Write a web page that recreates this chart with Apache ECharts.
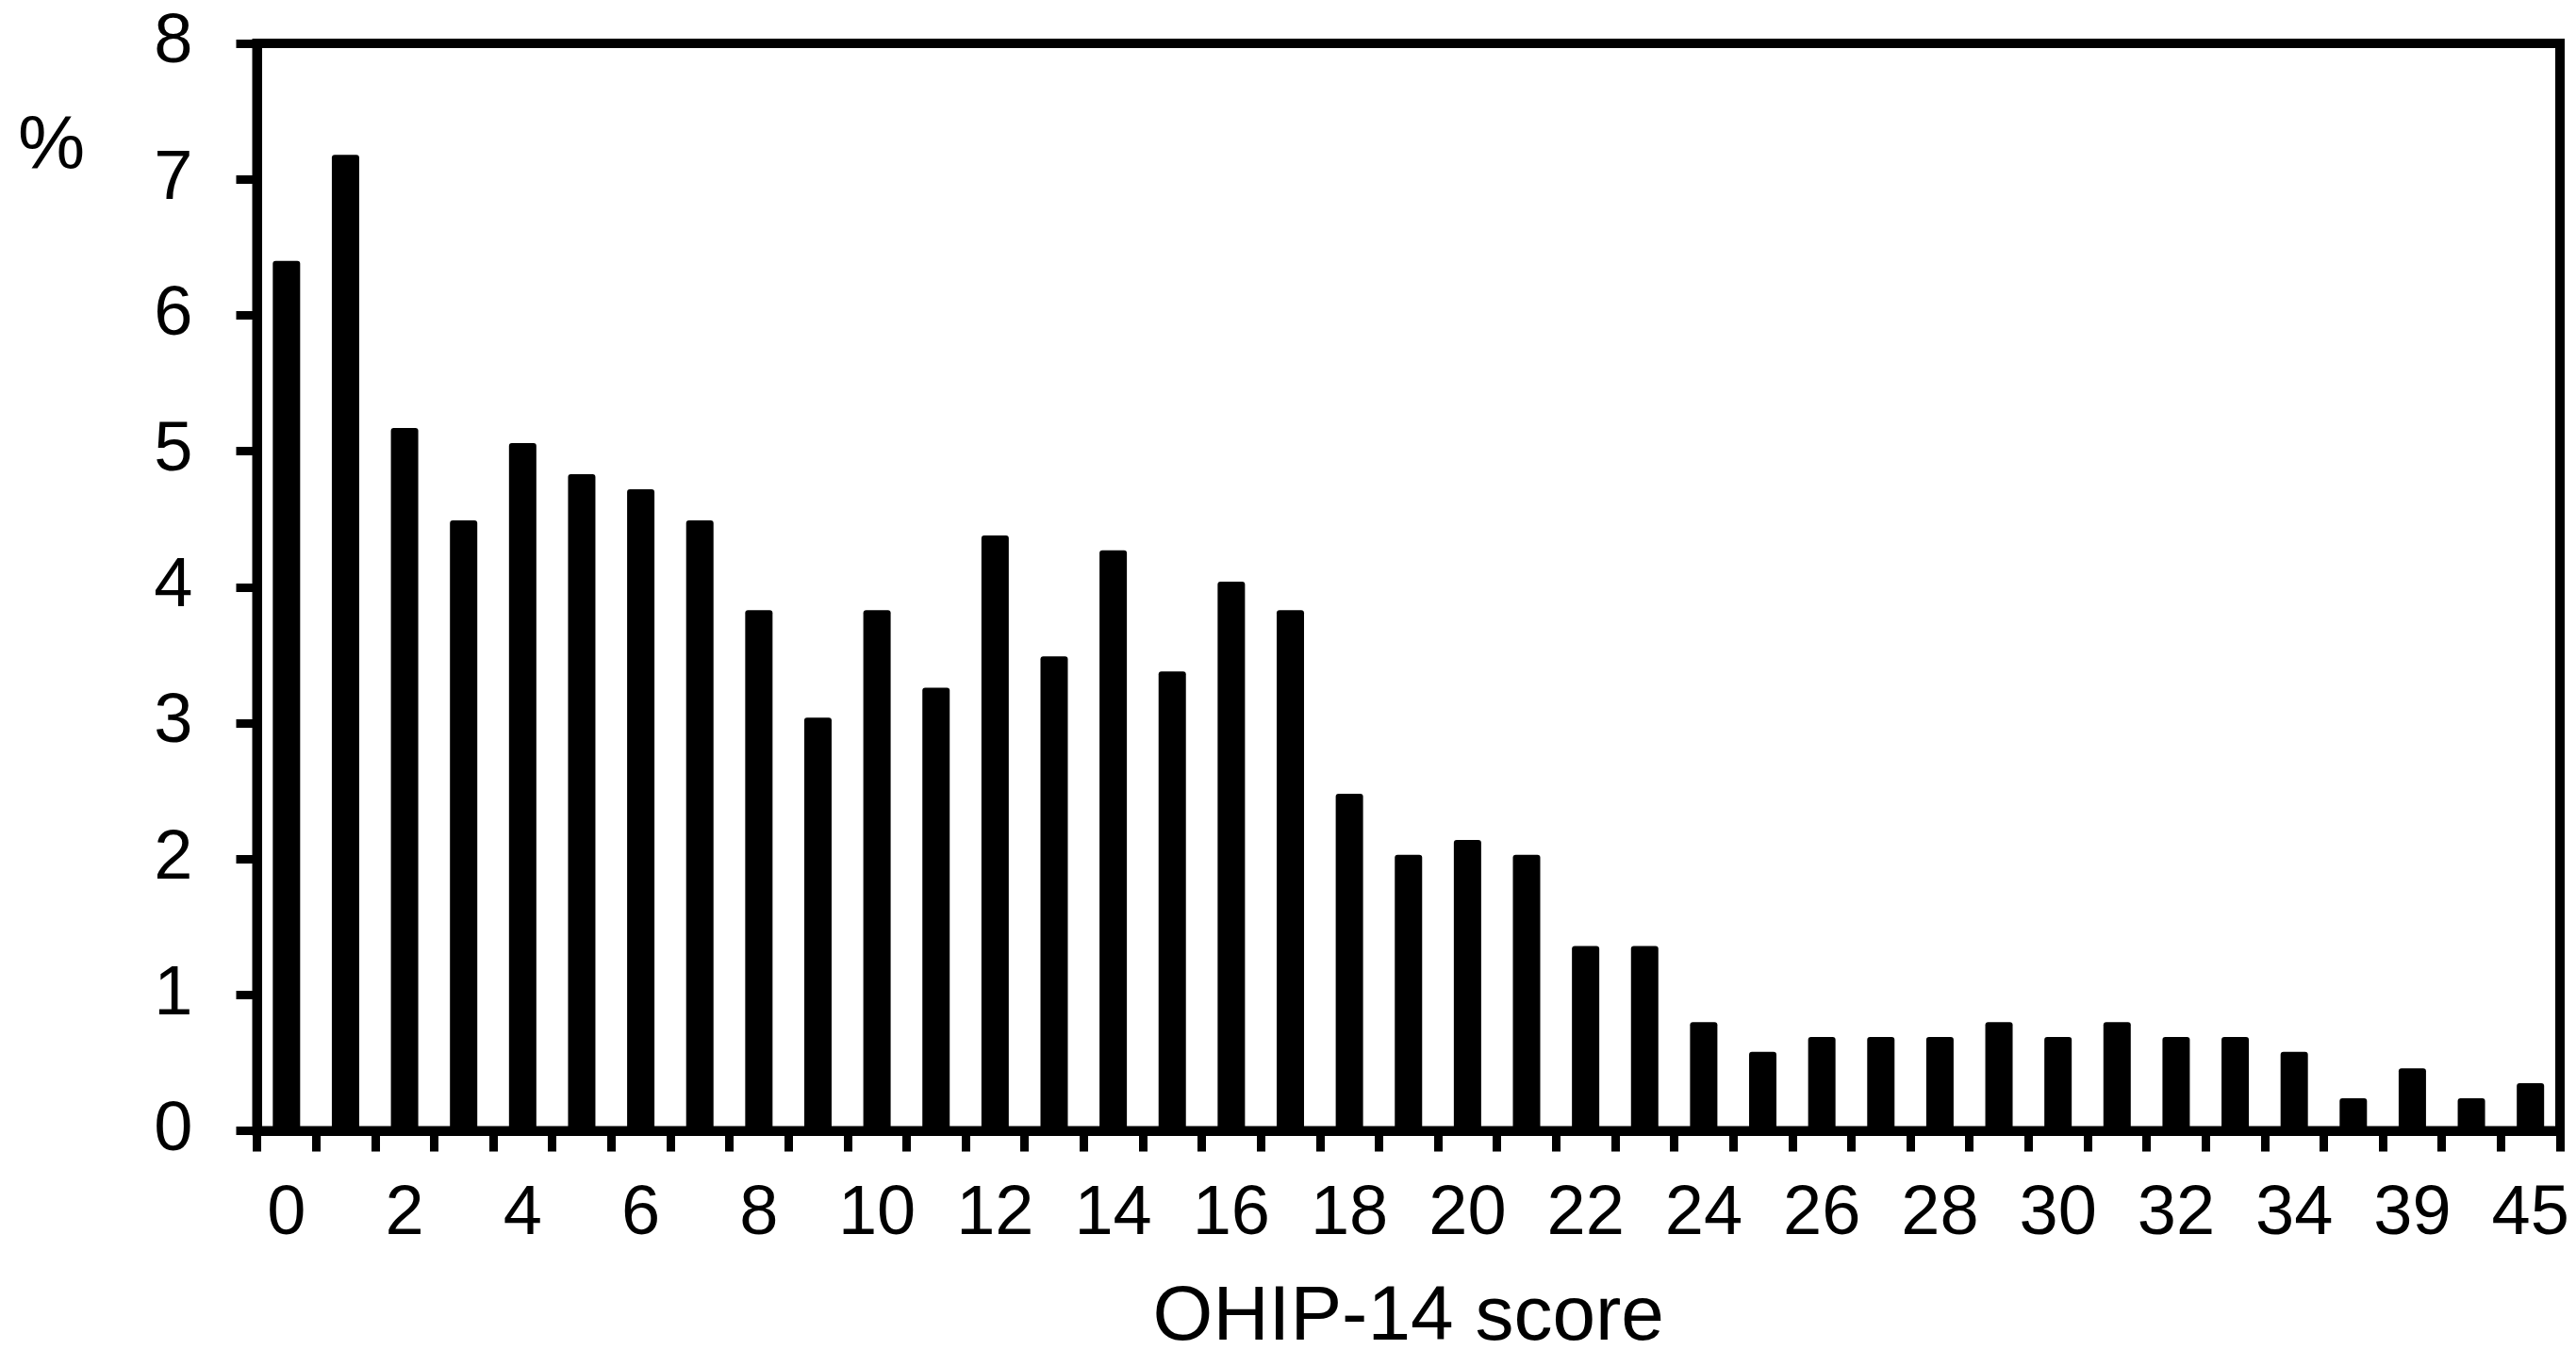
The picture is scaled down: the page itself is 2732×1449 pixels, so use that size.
<!DOCTYPE html>
<html>
<head>
<meta charset="utf-8">
<script src="https://cdn.jsdelivr.net/npm/echarts@6/dist/echarts.min.js"></script>
<style>
html,body{margin:0;padding:0;background:#fff;}
#chart{width:2732px;height:1449px;}
</style>
</head>
<body>
<div id="chart"></div>
<script>
// OHIP-14 score categories (unlabelled ones hidden by label interval)
const categories = ["0","1","2","3","4","5","6","7","8","9","10","11","12","13","14","15","16","17","18","19","20","21","22","23","24","25","26","27","28","29","30","31","32","33","34","37","39","41","45"];
// Percentage of respondents per score
const percentValues = [6.40,7.18,5.17,4.49,5.06,4.83,4.72,4.49,3.83,3.04,3.83,3.26,4.38,3.49,4.27,3.38,4.04,3.83,2.48,2.03,2.14,2.03,1.36,1.36,0.80,0.58,0.69,0.69,0.69,0.80,0.69,0.80,0.69,0.69,0.58,0.24,0.46,0.24,0.35];
const yTicks = {min: 0, max: 8, interval: 1};
const xTitle = "OHIP-14 score";
const yTitle = "%";

const FONT = "'Liberation Sans', Arial, sans-serif";
const chart = echarts.init(document.getElementById('chart'), null, {renderer: 'canvas'});
chart.setOption({
  backgroundColor: '#ffffff',
  animation: false,
  title: {
    text: yTitle,
    left: 14,
    top: 112,
    textStyle: {fontFamily: FONT, fontSize: 80, fontWeight: 'normal', color: '#000'}
  },
  grid: {
    left: 272.5, right: 17, top: 46, bottom: 249.5,
    show: true, borderColor: '#000', borderWidth: 10, backgroundColor: 'transparent'
  },
  xAxis: {
    type: 'category',
    data: categories,
    boundaryGap: true,
    name: xTitle,
    nameLocation: 'middle',
    nameGap: 158,
    nameTextStyle: {fontFamily: FONT, fontSize: 82, color: '#000'},
    axisLine: {show: true, lineStyle: {color: '#000', width: 10}},
    axisTick: {show: true, interval: 0, length: 22, lineStyle: {color: '#000', width: 9}},
    axisLabel: {interval: 1, margin: 52, fontFamily: FONT, fontSize: 74, color: '#000'},
    splitLine: {show: false}
  },
  yAxis: {
    type: 'value',
    min: yTicks.min, max: yTicks.max, interval: yTicks.interval,
    axisLine: {show: true, lineStyle: {color: '#000', width: 10}},
    axisTick: {show: true, length: 22, lineStyle: {color: '#000', width: 9}},
    axisLabel: {margin: 68, fontFamily: FONT, fontSize: 74, color: '#000'},
    splitLine: {show: false}
  },
  series: [{
    type: 'bar',
    data: percentValues,
    barWidth: 29,
    itemStyle: {color: '#000', borderRadius: [3,3,0,0]},
    z: 1
  }]
});
</script>
</body>
</html>
